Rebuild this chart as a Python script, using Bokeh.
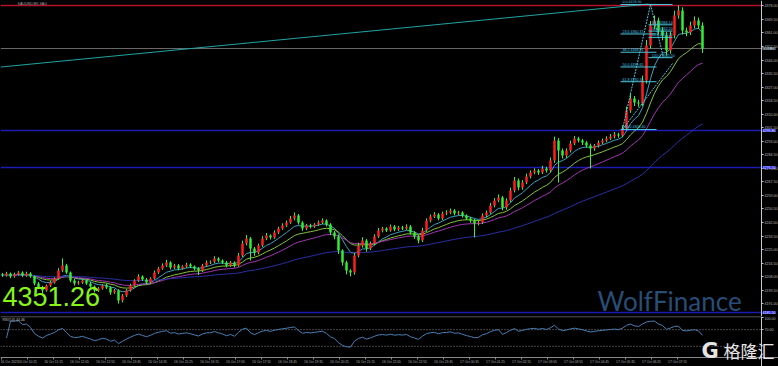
import numpy as np
import pandas as pd
from bokeh.plotting import figure
from bokeh.layouts import column
from bokeh.models import Range1d, FixedTicker, Label, PrintfTickFormatter
from bokeh.embed import file_html
from bokeh.resources import INLINE

# ---------------- data ----------------
SYMBOL_TITLE = "XAUUSD,M5  XAU"
OPEN_FIRST = 4209.5
CLOSES = [
    4208.7, 4210.0, 4208.1, 4209.3, 4210.6, 4208.7, 4210.0, 4208.1, 4203.7, 4201.2,
    4199.3, 4202.4, 4204.3, 4206.8, 4211.8, 4215.0, 4210.6, 4205.6, 4203.7, 4204.3,
    4205.6, 4203.7, 4201.8, 4199.3, 4200.5, 4202.4, 4201.2, 4198.0, 4199.3, 4193.0,
    4196.1, 4199.3, 4202.4, 4205.6, 4208.1, 4206.2, 4204.3, 4206.8, 4210.6, 4213.1,
    4215.0, 4216.9, 4213.7, 4215.0, 4213.1, 4214.4, 4215.6, 4214.4, 4213.1, 4211.8,
    4215.0, 4216.9, 4217.3, 4219.4, 4218.1, 4216.9, 4215.0, 4216.9, 4215.0, 4221.3,
    4228.8, 4231.9, 4225.7, 4223.1, 4227.5, 4231.9, 4233.8, 4232.6, 4235.7, 4238.2,
    4240.1, 4242.0, 4244.5, 4246.4, 4242.0, 4238.2, 4240.1, 4239.5, 4240.7, 4242.0,
    4243.2, 4240.7, 4235.7, 4233.2, 4224.4, 4216.9, 4211.8, 4210.6, 4221.3, 4227.5,
    4230.7, 4225.7, 4228.8, 4233.2, 4237.0, 4238.2, 4237.0, 4239.5, 4237.6, 4238.8,
    4238.2, 4239.5, 4235.7, 4233.2, 4230.7, 4237.0, 4243.2, 4245.8, 4247.0, 4244.5,
    4247.6, 4248.3, 4249.5, 4247.6, 4248.3, 4246.4, 4244.5, 4243.2, 4241.4, 4242.0,
    4246.4, 4248.3, 4252.7, 4255.8, 4257.7, 4251.4, 4255.8, 4262.1, 4268.4, 4264.0,
    4267.1, 4270.9, 4273.4, 4274.6, 4273.4, 4275.9, 4274.6, 4280.9, 4293.5, 4287.2,
    4284.1, 4287.2, 4291.6, 4294.7, 4293.5, 4292.2, 4290.3, 4288.5, 4290.3, 4292.2,
    4293.5, 4294.7, 4296.0, 4297.2, 4296.6, 4301.0, 4312.3, 4319.9, 4317.3, 4316.7,
    4331.2, 4353.1, 4365.7, 4368.8, 4362.6, 4359.4, 4350.0, 4359.4, 4372.0, 4375.1,
    4362.6, 4361.3, 4365.7, 4368.8, 4365.7, 4351.26,
]
UP_WICKS = [
    0.8, 1.0, 0.6, 1.2, 0.9, 0.7, 1.1, 0.8, 0.6, 0.9,
    1.0, 0.7, 1.2, 0.8, 1.5, 4.4, 1.0, 0.6, 0.9, 1.1,
    0.8, 0.7, 0.9, 0.6, 1.0, 0.8, 1.2, 0.7, 0.9, 0.8,
    1.0, 0.9, 1.1, 0.8, 1.4, 0.7, 0.9, 0.8, 1.2, 1.0,
    1.3, 1.6, 0.8, 1.0, 0.9, 0.7, 1.1, 0.8, 0.6, 0.9,
    1.0, 1.2, 0.9, 1.4, 0.8, 0.7, 1.0, 0.9, 0.8, 1.5,
    1.8, 2.2, 1.0, 0.9, 1.2, 1.5, 1.6, 0.8, 1.3, 1.1,
    1.4, 1.2, 1.6, 1.9, 0.9, 0.8, 1.0, 1.1, 0.9, 1.2,
    1.4, 0.8, 0.9, 1.0, 1.2, 0.8, 1.1, 0.9, 1.6, 1.8,
    2.0, 0.9, 1.2, 1.4, 1.5, 1.0, 0.8, 1.2, 0.9, 1.0,
    1.1, 1.3, 0.9, 0.8, 1.0, 1.6, 1.4, 1.2, 1.5, 0.9,
    1.3, 1.4, 1.2, 0.9, 1.0, 0.8, 0.7, 0.9, 1.0, 1.1,
    1.3, 1.2, 1.6, 1.5, 1.9, 1.0, 1.4, 1.8, 2.2, 1.2,
    1.5, 1.8, 1.3, 1.4, 1.0, 1.6, 1.1, 1.9, 2.4, 1.5,
    1.2, 1.4, 1.8, 1.6, 1.1, 1.0, 0.9, 1.2, 1.0, 1.3,
    1.2, 1.4, 1.5, 1.6, 1.2, 2.0, 2.5, 2.8, 1.5, 1.8,
    3.0, 3.5, 2.8, 3.2, 1.8, 2.0, 2.2, 2.5, 3.0, 3.2,
    2.0, 1.8, 2.4, 2.6, 1.8, 2.0,
]
DOWN_WICKS = [
    0.9, 0.7, 1.1, 0.8, 0.6, 1.0, 0.8, 0.9, 1.2, 1.0,
    2.0, 0.8, 0.9, 0.7, 0.8, 1.0, 0.9, 1.1, 1.3, 0.8,
    0.9, 1.0, 0.8, 1.2, 0.9, 0.7, 1.0, 1.4, 0.8, 1.9,
    1.2, 0.9, 0.8, 0.7, 0.9, 1.0, 1.2, 0.8, 0.7, 0.9,
    0.8, 1.0, 1.2, 0.9, 1.1, 0.8, 0.9, 1.0, 1.2, 2.8,
    0.9, 0.8, 1.0, 0.9, 1.1, 1.0, 1.2, 0.9, 1.3, 0.8,
    1.0, 1.2, 7.6, 2.0, 1.1, 0.9, 1.0, 1.3, 0.9, 1.0,
    0.8, 1.0, 0.9, 1.2, 1.3, 1.5, 1.0, 1.2, 0.9, 0.8,
    1.0, 1.2, 1.6, 1.8, 2.2, 2.0, 2.4, 2.5, 1.4, 1.2,
    1.3, 2.0, 1.1, 1.0, 0.9, 1.2, 1.0, 0.8, 1.1, 0.9,
    1.0, 0.9, 1.3, 1.5, 1.8, 1.0, 0.9, 1.1, 1.0, 1.2,
    0.9, 1.0, 1.1, 1.2, 0.9, 1.3, 1.0, 1.4, 8.8, 1.2,
    1.0, 1.1, 0.9, 1.2, 1.0, 1.8, 1.3, 1.0, 1.2, 1.8,
    1.4, 1.0, 1.2, 1.1, 1.5, 1.0, 1.3, 1.1, 1.5, 20.1,
    2.0, 1.5, 1.2, 1.0, 1.3, 1.6, 1.4, 12.6, 1.5, 1.2,
    1.0, 1.1, 0.9, 1.2, 1.4, 1.0, 1.3, 1.5, 2.2, 2.0,
    1.5, 2.0, 1.8, 2.2, 2.5, 3.0, 3.1, 2.0, 1.8, 2.0,
    2.6, 2.4, 1.6, 1.8, 2.2, 2.8,
]
MA_PERIODS = [8, 16, 26, 70]
MA_COLORS = ["#3f9fc4", "#86c23c", "#a235b5", "#2a30a8"]

PRICE_TICKS = [4378.00, 4369.50, 4361.00, 4352.50, 4344.00, 4335.50, 4327.00, 4318.50,
               4310.00, 4301.50, 4293.00, 4284.50, 4276.00, 4267.50, 4259.00, 4250.50,
               4242.00, 4233.50, 4225.00, 4216.50, 4208.00, 4199.50, 4191.00]
TIME_TICKS = [-0.25, 6.25, 12.75, 19.25, 25.75, 32.25, 38.75, 45.25, 51.75, 58.25,
              64.75, 71.25, 77.75, 84.25, 90.75, 97.25, 103.75, 110.25, 116.75, 123.25,
              129.75, 136.25, 142.75, 149.25, 155.75, 162.25, 168.75]
TIME_LABELS = ["16 Oct 2025", "16 Oct 10:25", "16 Oct 11:15", "16 Oct 12:05", "16 Oct 12:55",
               "16 Oct 13:45", "16 Oct 14:35", "16 Oct 15:25", "16 Oct 16:15", "16 Oct 17:05",
               "16 Oct 17:55", "16 Oct 18:45", "16 Oct 19:35", "16 Oct 20:25", "16 Oct 21:15",
               "16 Oct 22:05", "16 Oct 22:55", "16 Oct 23:45", "17 Oct 00:35", "17 Oct 01:25",
               "17 Oct 02:15", "17 Oct 03:05", "17 Oct 03:55", "17 Oct 04:45", "17 Oct 05:35",
               "17 Oct 06:25", "17 Oct 07:15"]

LAST_PRICE = 4351.26
LAST_PRICE_TEXT = "4351.26"
RED_LEVEL = 4378.3
BLUE_LEVELS = [4299.8, 4276.5, 4185.5]
BLUE_LEVEL_TEXT = ["4299.80", "4276.50", "4185.50"]
TREND_X = [-0.5, 161.5]
TREND_Y = [4339.6, 4379.2]
FIB1_X = [155, 162]          # low bar, high bar
FIB1_LOW, FIB1_HIGH = 4300.4, 4378.9
FIB1_PCTS = [0.0, 23.6, 38.2, 50.0, 61.8, 100.0]
FIB1_SPAN = [154.5, 163.5]
FIB2_X = [162, 165.25]
FIB2_HIGH, FIB2_LOW = 4378.9, 4345.5
FIB2_PCTS = [0.0, 38.2, 50.0, 61.8, 100.0]
FIB2_SPAN = [161.5, 167.5]
TREND2_X = [155, 167.5]
TREND2_Y = [4300.4, 4341.8]

RSI_PERIOD = 14
RSI_LEVELS = [70, 30]
RSI_TICKS = [100, 70]
RSI_TITLE = "RSI(14) 44.46"

# ---------------- derived series ----------------
n = len(CLOSES)
idx = np.arange(n)
closes = np.array(CLOSES)
opens = np.concatenate([[OPEN_FIRST], closes[:-1]])
highs = np.maximum(opens, closes) + np.array(UP_WICKS)
lows = np.minimum(opens, closes) - np.array(DOWN_WICKS)
up = closes >= opens
s = pd.Series(closes)

BG = "black"
X0, AXIS_X, X_END = -0.5, 189.75, 194.0
xr = Range1d(X0, X_END)


def style_price_axis(ax, ticks):
    ax.ticker = FixedTicker(ticks=ticks)
    ax.formatter = PrintfTickFormatter(format="%.2f")
    ax.fixed_location = AXIS_X
    ax.axis_line_color = "#c8c8c8"
    ax.major_tick_line_color = "#c8c8c8"
    ax.major_tick_out = 2
    ax.major_tick_in = 0
    ax.minor_tick_line_color = None
    ax.major_label_text_font_size = "3.6px"
    ax.major_label_text_color = "#b8b8b8"
    ax.major_label_standoff = 1


p = figure(frame_width=778, frame_height=316, x_range=xr,
           y_range=Range1d(4182.95, 4381.4), output_backend="svg",
           toolbar_location=None, x_axis_location=None, y_axis_location="right",
           background_fill_color=BG, border_fill_color=BG, outline_line_color=None,
           min_border_left=0, min_border_right=0, min_border_top=0, min_border_bottom=0)
p.grid.visible = False
style_price_axis(p.yaxis[0], PRICE_TICKS)

# horizontal levels
p.segment([X0], [RED_LEVEL], [AXIS_X], [RED_LEVEL], line_color="#b3122c", line_width=1.5)
p.segment([X0], [LAST_PRICE], [AXIS_X], [LAST_PRICE], line_color="#6a6a6a", line_width=1)
p.segment([X0] * len(BLUE_LEVELS), BLUE_LEVELS, [AXIS_X] * len(BLUE_LEVELS), BLUE_LEVELS,
          line_color="#1c1cb0", line_width=1.5)

# trend line
p.line(TREND_X, TREND_Y, line_color="#22a3a3", line_width=1)

# moving averages
for per, col in zip(MA_PERIODS, MA_COLORS):
    ema = s.ewm(span=per, adjust=False).mean()
    p.line(idx, ema.values, line_color=col, line_width=1)

# candles
p.segment(idx, highs, idx, lows, line_color="#3cf03c", line_width=1)
p.vbar(x=idx[up], width=0.62, top=closes[up], bottom=opens[up],
       fill_color="#ff1e1e", line_color=None)
p.vbar(x=idx[~up], width=0.62, top=opens[~up], bottom=closes[~up],
       fill_color="#33ee33", line_color=None)

# fibonacci
FIBC = "#4cc8e0"
f1_levels = [FIB1_HIGH - pc / 100.0 * (FIB1_HIGH - FIB1_LOW) for pc in FIB1_PCTS]
f2_levels = [FIB2_HIGH - pc / 100.0 * (FIB2_HIGH - FIB2_LOW) for pc in FIB2_PCTS]
p.segment([FIB1_SPAN[0]] * len(f1_levels), f1_levels, [FIB1_SPAN[1]] * len(f1_levels), f1_levels,
          line_color=FIBC, line_width=1)
p.segment([FIB2_SPAN[0]] * len(f2_levels), f2_levels, [FIB2_SPAN[1]] * len(f2_levels), f2_levels,
          line_color=FIBC, line_width=1)
p.line(FIB1_X, [FIB1_LOW, FIB1_HIGH], line_color=FIBC, line_dash="2 1", line_width=1)
p.line(FIB2_X, [FIB2_HIGH, FIB2_LOW], line_color=FIBC, line_dash="2 1", line_width=1)
p.line(TREND2_X, TREND2_Y, line_color=FIBC, line_dash="2 1", line_width=1)
p.text(x=[FIB1_SPAN[0] + 0.5] * len(f1_levels), y=f1_levels,
       text=["%.1f  %.2f" % (pc, lv) for pc, lv in zip(FIB1_PCTS, f1_levels)],
       text_font_size="3.6px", text_color=FIBC, text_baseline="bottom", text_align="left")
p.text(x=[FIB2_SPAN[0] + 0.8] * (len(f2_levels) - 1), y=f2_levels[1:],
       text=["%.1f  %.2f" % (pc, lv) for pc, lv in zip(FIB2_PCTS[1:], f2_levels[1:])],
       text_font_size="3.6px", text_color=FIBC, text_baseline="bottom", text_align="left")

# big price text and watermarks
p.add_layout(Label(x=0, y=4201.2, text=LAST_PRICE_TEXT, text_font="Liberation Sans",
                   text_font_size="27px", text_color="#86f41a", text_baseline="top"))
p.add_layout(Label(x=148.75, y=4203.0, text="WolfFinance", text_font="Lato",
                   text_font_size="26px", text_color="#284d76", text_baseline="top"))
p.add_layout(Label(x=3.75, y=4378.9, text=SYMBOL_TITLE, text_font_size="3.6px",
                   text_color="#a8a8a8", text_baseline="middle"))

# axis price boxes
p.add_layout(Label(x=AXIS_X, y=LAST_PRICE, x_offset=1, text=LAST_PRICE_TEXT,
                   text_font_size="3.6px", text_color="#000000", text_baseline="middle",
                   background_fill_color="#9aa6b4"))
for lv, tx in zip(BLUE_LEVELS, BLUE_LEVEL_TEXT):
    p.add_layout(Label(x=AXIS_X, y=lv, x_offset=1, text=tx, text_font_size="3.6px",
                       text_color="#ffffff", text_baseline="middle",
                       background_fill_color="#1e1ee6"))

# ---------------- RSI panel ----------------
d = s.diff()
gain = d.clip(lower=0)
loss = -d.clip(upper=0)
ag = gain.ewm(alpha=1.0 / RSI_PERIOD, adjust=False).mean()
al = loss.ewm(alpha=1.0 / RSI_PERIOD, adjust=False).mean()
rsi = (100 - 100 / (1 + ag / al.replace(0, np.nan))).fillna(50)

r = figure(frame_width=778, frame_height=50, x_range=xr, y_range=Range1d(-18.3, 101.5),
           output_backend="svg", toolbar_location=None, y_axis_location="right",
           x_axis_location="below",
           background_fill_color=BG, border_fill_color=BG, outline_line_color=None,
           min_border_left=0, min_border_right=0, min_border_top=0, min_border_bottom=0)
r.grid.visible = False
# panel separator
r.segment([X0], [101.0], [AXIS_X], [101.0], line_color="#8a8a8a", line_width=1)
r.segment([X0] * len(RSI_LEVELS), RSI_LEVELS, [AXIS_X] * len(RSI_LEVELS), RSI_LEVELS,
          line_color="#8a8a8a", line_dash="1 2", line_width=1)
r.line(idx[1:], rsi.values[1:], line_color="#4a7fb5", line_width=1)
style_price_axis(r.yaxis[0], RSI_TICKS)
rx = r.xaxis[0]
rx.fixed_location = 3.3
rx.ticker = FixedTicker(ticks=TIME_TICKS)
rx.major_label_overrides = {t: l for t, l in zip(TIME_TICKS, TIME_LABELS)}
rx.major_label_text_align = "left"
rx.major_label_text_font_size = "3.3px"
rx.major_label_text_color = "#b0b0b0"
rx.major_label_standoff = 1
rx.axis_line_color = "#8a8a8a"
rx.major_tick_line_color = "#8a8a8a"
rx.major_tick_out = 2
rx.major_tick_in = 0
rx.minor_tick_line_color = None

r.add_layout(Label(x=0, y=93.5, text=RSI_TITLE, text_font_size="3.6px",
                   text_color="#c0c0c0", text_baseline="middle"))
r.add_layout(Label(x=174.75, y=47.0, text="G", text_font="DejaVu Sans",
                   text_font_style="bold", text_font_size="21px", text_color="#e6e6e6",
                   text_baseline="top"))
r.add_layout(Label(x=180.25, y=49.0, text="格隆汇", text_font="Noto Sans CJK SC",
                   text_font_size="17px", text_color="#e6e6e6", text_baseline="top"))

layout = column(p, r, spacing=0, styles={"background-color": "black"})
open("out.html", "w").write(file_html(layout, INLINE))
